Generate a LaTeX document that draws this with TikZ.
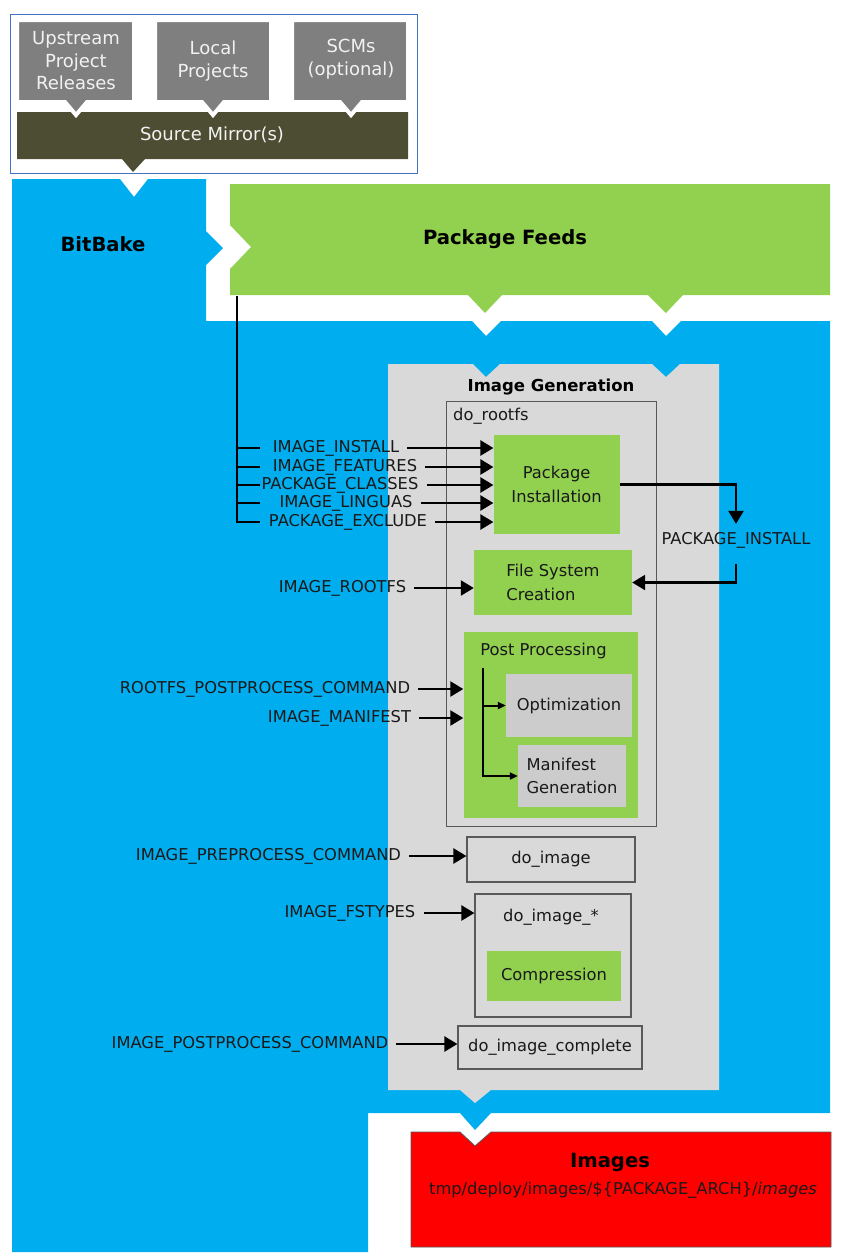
\documentclass[tikz,border=0pt]{standalone}
\usepackage{fontspec}
\setmainfont{DejaVu Sans}
\usepackage{tikz}
\usetikzlibrary{arrows.meta,positioning,calc}
\definecolor{bbBlue}{HTML}{00AEEF}
\definecolor{feedGreen}{HTML}{92D050}
\definecolor{genGray}{HTML}{D9D9D9}
\definecolor{subGray}{HTML}{CCCCCC}
\definecolor{srcGray}{HTML}{7F7F7F}
\definecolor{mirrorOlive}{HTML}{4D4D33}
\definecolor{frameBlue}{HTML}{4472C4}
\definecolor{taskEdge}{HTML}{595959}
\definecolor{srcText}{HTML}{F2F2F2}

\tikzset{
  fnt/.style={font=\fontsize{16.3}{23.5}\selectfont},
  vlabel/.style={fnt, inner sep=2pt, text=black!90},
  block/.style={fnt, inner sep=0pt, align=center, text=black!90},
  greenblock/.style={block, fill=feedGreen},
  grayblock/.style={block, fill=subGray},
  taskbox/.style={block, draw=taskEdge, line width=1.2pt},
  feed/.style={draw, line width=2.4pt, -{Triangle[length=13pt,width=15pt]}, shorten <=6pt},
  subfeed/.style={draw, line width=2pt, -{Triangle[length=8pt,width=7pt]}},
  busline/.style={draw, line width=2.4pt},
  srcbox/.style={fill=srcGray, draw=white, line width=4pt, line join=miter},
  srctext/.style={font=\fontsize{18}{22.5}\selectfont, text=srcText, align=center},
  title/.style={font=\fontsize{19.6}{24}\selectfont\bfseries, text=black},
}

\begin{document}
\begin{tikzpicture}[x=1pt,y=-1pt]
  \useasboundingbox (0,0) rectangle (851,1259);

  % sources
  \draw[frameBlue, line width=1pt] (10,14) rectangle (417,173);
  \fill[mirrorOlive] (17,112) -- (408,112) -- (408,159) -- (145,159) -- (133,172)
    -- (122,159) -- (17,159) -- cycle;
  \node[srctext] (mirror) at (212,135) {Source Mirror(s)};
  \draw[srcbox] (17,20) -- (134,20) -- (134,102) -- (87,102) -- (76,115) -- (65,102) -- (17,102) -- cycle;
  \draw[srcbox] (155,20) -- (271,20) -- (271,102) -- (224,102) -- (213,115) -- (202,102) -- (155,102) -- cycle;
  \draw[srcbox] (292,20) -- (408,20) -- (408,102) -- (362,102) -- (351,115) -- (340,102) -- (292,102) -- cycle;
  \node[srctext] (upstream) at (76,61) {Upstream\\Project\\Releases};
  \node[srctext] (local) at (213,61) {Local\\Projects};
  \node[srctext] (scm) at (351,59) {SCMs\\(optional)};

  % bitbake area
  \fill[bbBlue] (12,179) -- (120,179) -- (134,197) -- (148,179) -- (206,179) -- (206,231)
    -- (223,248) -- (206,265) -- (206,321) -- (472,321) -- (486,336) -- (501,321)
    -- (652,321) -- (666,336) -- (681,321) -- (830,321) -- (830,1113) -- (491,1113)
    -- (475,1130) -- (460,1113) -- (368,1113) -- (368,1252) -- (12,1252) -- cycle;
  \node[title] (bitbake) at (103,244) {BitBake};

  % feeds
  \fill[feedGreen] (230,184) -- (830,184) -- (830,295) -- (683,295) -- (666,313) -- (648,295)
    -- (502,295) -- (485,313) -- (468,295) -- (230,295) -- (230,269) -- (251,247)
    -- (230,225) -- cycle;
  \node[title] (feeds) at (505,239) {Package Feeds};

  % image generation
  \fill[genGray] (388,364) -- (473,364) -- (486,377) -- (500,364) -- (652,364) -- (666,377)
    -- (680,364) -- (719,364) -- (719,1090) -- (491,1090) -- (475,1103) -- (460,1090)
    -- (388,1090) -- cycle;
  \node[font=\fontsize{16.5}{20}\selectfont\bfseries] (imggen) at (551,387) {Image Generation};

  % images output
  \draw[fill=red, draw=taskEdge, line width=0.8pt] (411,1132) -- (460,1132) -- (475,1146) -- (491,1132)
    -- (831,1132) -- (831,1247) -- (411,1247) -- cycle;
  \node[title] (images) at (610,1162) {Images};
  \node[vlabel] (deploy) at (623,1190) {tmp/deploy/images/\$\{PACKAGE\_ARCH\}/\textit{images}};

  % tasks
  \node[taskbox, minimum width=210pt, minimum height=425pt] (rootfs) at (551.6,614.2) {};
  \node[vlabel, anchor=west] (rootfslbl) at (451,416) {do\_rootfs};
  \node[greenblock, minimum width=126pt, minimum height=99pt] (pkginst) at (556.6,484.5) {Package\\Installation};
  \node[greenblock, minimum width=158pt, minimum height=65pt, align=left] (fscreate) at (553,582.5) {File System\\Creation};
  \node[greenblock, minimum width=174pt, minimum height=186pt] (postproc) at (550.5,725) {};
  \node[vlabel] (pplbl) at (543.5,651) {Post Processing};
  \node[grayblock, minimum width=126pt, minimum height=63pt] (optim) at (569,705.5) {Optimization};
  \node[grayblock, minimum width=108pt, minimum height=62pt, align=left] (manifest) at (572,776) {Manifest\\Generation};
  \node[taskbox, minimum width=168pt, minimum height=45pt] (doimage) at (551,859.5) {do\_image};
  \node[taskbox, minimum width=156pt, minimum height=123pt] (doimagestar) at (553,955.5) {};
  \node[vlabel] (starlbl) at (551,917) {do\_image\_*};
  \node[greenblock, minimum width=133.5pt, minimum height=50pt] (compress) at (554,976) {Compression};
  \node[taskbox, minimum width=184pt, minimum height=43pt] (docomplete) at (550,1047.5) {do\_image\_complete};

  % variables
  \node[vlabel] (lInstall) at (336,448) {IMAGE\_INSTALL};
  \node[vlabel] (lFeatures) at (345,467) {IMAGE\_FEATURES};
  \node[vlabel] (lClasses) at (340,485) {PACKAGE\_CLASSES};
  \node[vlabel] (lLinguas) at (346,503) {IMAGE\_LINGUAS};
  \node[vlabel] (lExclude) at (348,522) {PACKAGE\_EXCLUDE};
  \node[vlabel] (lPkgInstall) at (736,540) {PACKAGE\_INSTALL};
  \node[vlabel] (lRootfs) at (342.5,588) {IMAGE\_ROOTFS};
  \node[vlabel] (lPostCmd) at (265,689) {ROOTFS\_POSTPROCESS\_COMMAND};
  \node[vlabel] (lManifest) at (339.5,718) {IMAGE\_MANIFEST};
  \node[vlabel] (lPreCmd) at (268.5,856) {IMAGE\_PREPROCESS\_COMMAND};
  \node[vlabel] (lFstypes) at (350,913) {IMAGE\_FSTYPES};
  \node[vlabel] (lImgPost) at (250,1044) {IMAGE\_POSTPROCESS\_COMMAND};

  % connectors
  \coordinate (tap) at (237,296);
  \draw[busline] (tap) -- (tap |- lExclude) -- ++(23,0);
  \foreach \l in {lInstall,lFeatures,lClasses,lLinguas}
    \draw[busline] (tap |- \l) -- ++(23,0);
  \foreach \l in {lInstall,lFeatures,lClasses,lLinguas,lExclude}
    \draw[feed] (\l.east) -- (\l.east -| pkginst.west);
  \draw[feed, shorten <=0pt, shorten >=6pt] (pkginst.east) -| (lPkgInstall.north);
  \draw[feed, shorten <=14pt] (lPkgInstall.south) |- (fscreate.east);
  \draw[feed] (lRootfs.east) -- (lRootfs.east -| fscreate.west);
  \foreach \l in {lPostCmd,lManifest}
    \draw[feed] (\l.east) -- (\l.east -| postproc.west);
  \draw[feed] (lPreCmd.east) -- (lPreCmd.east -| doimage.west);
  \draw[feed] (lFstypes.east) -- (lFstypes.east -| doimagestar.west);
  \draw[feed] (lImgPost.east) -- (lImgPost.east -| docomplete.west);
  \coordinate (ppTap) at (483,668);
  \draw[subfeed] (ppTap) |- (manifest.west);
  \draw[subfeed] (ppTap |- optim.west) -- (optim.west);
\end{tikzpicture}
\end{document}
